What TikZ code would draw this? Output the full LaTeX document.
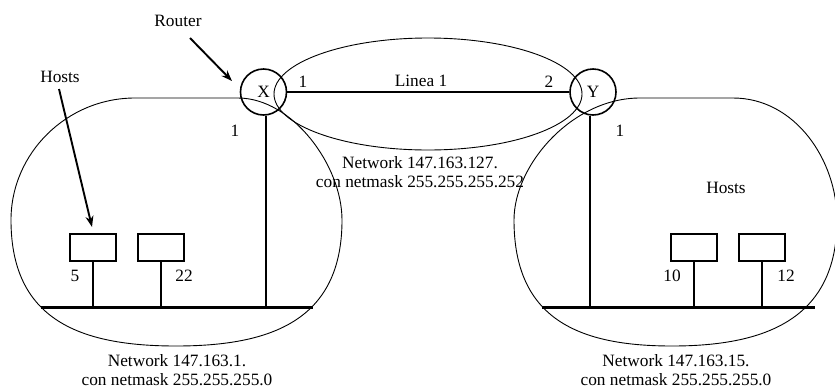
\documentclass[tikz,border=0pt]{standalone}
\usepackage{fontspec}
\setmainfont{Liberation Serif}
\newfontfamily\capfont{Liberation Serif}
\usetikzlibrary{arrows.meta}
\begin{document}
\begin{tikzpicture}[x=1pt,y=-1pt,
  every node/.style={font=\capfont\fontsize{17.3}{19.5}\selectfont},
  router/.style={circle,draw,line width=1.6pt,minimum size=46pt,inner sep=0pt},
  hostbox/.style={draw,line width=1.3pt,minimum width=46pt,minimum height=27pt,inner sep=0pt},
  lbl/.style={inner sep=0pt},
  netshape/.style={line width=0.9pt},
  bus/.style={line width=3pt},
  stem/.style={line width=1.9pt},
  link/.style={line width=1.5pt},
  pointer/.style={line width=1.9pt,-{Stealth[length=11pt,width=8pt]}}
]
\useasboundingbox (0,0) rectangle (835,389);

% network boundaries
\draw[netshape] (11,220) .. controls (11,153) and (67,98) .. (135,98) -- (238,98)
  .. controls (292,98) and (342,165) .. (342,220)
  .. controls (342,320) and (272,346) .. (176,346)
  .. controls (80,346) and (11,320) .. (11,220) -- cycle;
\draw[netshape] (514,220) .. controls (514,165) and (572,98) .. (640,98) -- (733,98)
  .. controls (795,98) and (837,160) .. (837,220)
  .. controls (837,320) and (764,346) .. (672,346)
  .. controls (580,346) and (514,320) .. (514,220) -- cycle;
\draw[netshape] (428,94) ellipse [x radius=154pt, y radius=56pt];

% routers and link
\node[router] (X) at (263.5,92) {X};
\node[router] (Y) at (593,92) {Y};
\draw[link] (X) -- (Y);
\node[lbl] (linea) at (421,81) {Linea 1};
\node[lbl] (x1) at (303,82) {1};
\node[lbl] (y2) at (549,82) {2};
\node[lbl] (x1b) at (235,131) {1};
\node[lbl] (y1b) at (620,131) {1};

% buses
\coordinate (lb1) at (41,307);
\coordinate (lb2) at (313,307);
\coordinate (rb1) at (542,307);
\coordinate (rb2) at (815,307);
\draw[bus] (lb1) -- (lb2);
\draw[bus] (rb1) -- (rb2);
\draw[stem] ([xshift=2.5pt]X.south) -- ([xshift=2.5pt]X.south |- lb1);
\draw[stem] ([xshift=-3pt]Y.south) -- ([xshift=-3pt]Y.south |- rb1);

% hosts
\node[hostbox] (h5) at (93,247.5) {};
\node[hostbox] (h22) at (161,247.5) {};
\node[hostbox] (h10) at (694,247.5) {};
\node[hostbox] (h12) at (762,247.5) {};
\draw[stem] (h5.south) -- (h5.south |- lb1);
\draw[stem] (h22.south) -- (h22.south |- lb1);
\draw[stem] (h10.south) -- (h10.south |- rb1);
\draw[stem] (h12.south) -- (h12.south |- rb1);
\node[lbl] (n5) at (75,276) {5};
\node[lbl] (n22) at (184,276) {22};
\node[lbl] (n10) at (672,276) {10};
\node[lbl] (n12) at (786,276) {12};

% labels and pointers
\node[lbl] (routerlbl) at (178,21) {Router};
\coordinate (rpa) at (190,38);
\coordinate (rpb) at (232,81);
\draw[pointer] (rpa) -- (rpb);
\node[lbl] (hostslbl) at (60,77) {Hosts};
\coordinate (hpa) at (59,89);
\coordinate (hpb) at (92,227);
\draw[pointer] (hpa) -- (hpb);
\node[lbl] (hostsr) at (726,188) {Hosts};

% network captions
\node[align=center] (netmid) at (420,172) {Network 147.163.127.\\con netmask 255.255.255.252};
\node[align=center] (netl) at (177,370) {Network 147.163.1.\\con netmask 255.255.255.0};
\node[align=center] (netr) at (676,370) {Network 147.163.15.\\con netmask 255.255.255.0};
\end{tikzpicture}
\end{document}
